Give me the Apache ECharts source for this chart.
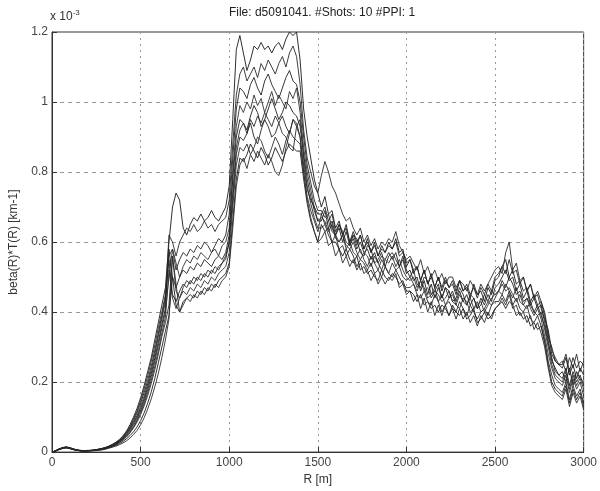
<!DOCTYPE html>
<html>
<head>
<meta charset="utf-8">
<script src="https://cdn.jsdelivr.net/npm/echarts@6/dist/echarts.min.js"></script>
<style>
  html, body { margin: 0; padding: 0; background: #fff; }
  #chart { width: 600px; height: 491px; }
</style>
</head>
<body>
<div id="chart"></div>
<script>
// range step of the lidar profile, metres
var rangeStep = 20;
var rangeCount = 151;
var xTicks = [0, 500, 1000, 1500, 2000, 2500, 3000];
var yTicks = [0, 0.2, 0.4, 0.6, 0.8, 1, 1.2];

// beta(R)*T(R), units of 1e-3 km-1, one array per shot
var shot1 = [0,.004,.009,.013,.015,.013,.009,.006,.004,.004,.004,.005,.006,.008,.010,.013,.017,.022,.028,
  .036,.046,.06,.078,.1,.125,.155,.19,.23,.27,.32,.37,.42,.47,
  .6,.7,.74,.72,.64,.62,.65,.67,.66,.68,.66,.67,.69,.67,.66,.68,.7,
  .76,.95,1.15,1.19,
  1.14,1.09,1.12,1.16,1.15,1.17,1.15,1.16,1.14,1.16,1.17,1.15,1.18,1.2,1.19,1.2,
  1.12,.98,.9,.84,.78,.74,
  .7,.73,.68,.69,.64,.66,.62,.65,.6,.63,.6,.62,.58,.61,.57,.6,.56,.59,.57,.6,.58,.61,.57,.58,.53,
  .55,.51,.53,.49,.52,.48,.5,.47,.5,.46,.49,.47,.48,.45,.49,.46,.47,.44,.48,.45,.46,.43,.47,.45,.49,
  .5,.53,.55,.5,.52,.48,.49,.46,.47,.43,.45,.42,.43,
  .39,.33,.3,.26,.25,
  .24,.27,.22,.25,.21,.24,.22];
var shot2 = [0,.003,.008,.012,.014,.012,.009,.006,.004,.003,.004,.004,.005,.007,.009,.012,.015,.02,.025,
  .032,.04,.052,.067,.085,.105,.13,.16,.195,.235,.28,.33,.38,.43,
  .62,.6,.56,.6,.62,.64,.63,.65,.63,.64,.66,.64,.65,.63,.65,.66,.67,
  .72,.88,1.02,1.08,
  1.1,1.06,1.08,1.1,1.07,1.11,1.09,1.12,1.1,1.08,1.11,1.13,1.1,1.14,1.16,1.13,
  1.05,.92,.84,.8,.76,.74,
  .79,.83,.8,.76,.74,.71,.68,.66,.67,.64,.62,.64,.6,.62,.59,.61,.58,.6,.59,.61,.6,.63,.59,.57,.55,
  .56,.54,.52,.55,.51,.53,.5,.52,.49,.51,.48,.5,.5,.47,.49,.48,.46,.49,.47,.45,.48,.46,.48,.5,.52,
  .53,.51,.57,.6,.52,.54,.49,.5,.46,.48,.44,.45,.41,
  .38,.35,.29,.27,.25,
  .26,.23,.27,.24,.28,.23,.26];
var shot3 = [0,.004,.009,.012,.014,.012,.009,.006,.005,.004,.004,.005,.006,.008,.01,.012,.016,.02,.026,
  .033,.042,.055,.07,.09,.112,.14,.17,.205,.245,.29,.34,.39,.44,
  .56,.58,.52,.55,.57,.56,.58,.57,.59,.58,.6,.59,.57,.59,.61,.6,.62,
  .68,.84,.98,1.04,
  1.03,1.01,1.05,1.07,1.04,1.02,1.06,1.08,1.05,1.03,1.01,1.04,1.07,1.09,1.06,1.05,
  1.0,.9,.82,.77,.72,.69,
  .69,.67,.68,.64,.62,.65,.63,.6,.59,.62,.61,.57,.56,.59,.58,.54,.55,.57,.53,.56,.57,.55,.53,.56,.52,
  .5,.52,.48,.47,.5,.49,.45,.46,.48,.44,.47,.46,.43,.44,.47,.45,.42,.45,.44,.41,.42,.45,.43,.46,.45,
  .46,.49,.47,.5,.48,.45,.46,.43,.44,.42,.4,.42,.39,
  .36,.31,.27,.23,.22,
  .21,.24,.19,.23,.2,.22,.19];
var shot4 = [0,.003,.008,.012,.013,.011,.008,.005,.004,.004,.004,.004,.005,.007,.009,.011,.014,.018,.023,
  .029,.037,.047,.06,.076,.095,.118,.145,.178,.215,.258,.305,.355,.4,
  .5,.58,.54,.5,.53,.55,.54,.56,.55,.57,.56,.55,.57,.58,.56,.59,.6,
  .64,.8,.93,.99,
  .97,1.0,.98,1.02,.99,1.01,.97,1.0,1.03,.99,1.02,1.0,.98,1.03,1.01,1.04,
  .97,.87,.8,.75,.7,.66,
  .67,.66,.63,.65,.61,.6,.62,.58,.6,.57,.56,.58,.55,.53,.56,.54,.52,.55,.53,.51,.54,.52,.53,.5,.49,
  .5,.48,.46,.49,.47,.44,.45,.47,.43,.45,.42,.44,.45,.42,.41,.44,.43,.4,.41,.43,.4,.41,.43,.42,.44,
  .46,.45,.48,.46,.44,.47,.43,.42,.44,.41,.39,.41,.38,
  .33,.28,.24,.21,.2,
  .19,.22,.17,.21,.18,.2,.16];
var shot5 = [0,.004,.009,.013,.014,.012,.008,.006,.004,.004,.004,.005,.006,.007,.009,.012,.015,.019,.024,
  .031,.039,.05,.064,.081,.1,.124,.152,.186,.224,.268,.315,.365,.41,
  .58,.5,.47,.5,.52,.51,.53,.52,.54,.53,.55,.54,.53,.55,.56,.55,.57,
  .62,.78,.9,.95,
  .94,.92,.96,.99,.97,.93,.95,.98,1.01,.98,.95,.97,1.0,.99,.97,.96,
  .93,.85,.78,.73,.69,.66,
  .66,.69,.64,.66,.62,.64,.6,.63,.59,.61,.58,.6,.57,.58,.55,.57,.54,.56,.55,.57,.55,.57,.53,.55,.51,
  .52,.49,.5,.46,.49,.45,.48,.44,.47,.44,.47,.44,.46,.43,.46,.43,.45,.42,.44,.41,.44,.42,.45,.43,.47,
  .48,.5,.52,.49,.5,.46,.48,.44,.46,.42,.44,.41,.42,
  .37,.32,.26,.24,.22,
  .23,.2,.24,.19,.23,.21,.2];
var shot6 = [0,.003,.008,.011,.013,.011,.008,.005,.004,.003,.004,.004,.005,.006,.008,.01,.013,.017,.021,
  .027,.034,.043,.055,.069,.086,.107,.132,.162,.196,.235,.28,.33,.37,
  .42,.56,.46,.44,.47,.49,.48,.5,.49,.51,.5,.52,.51,.53,.52,.54,.56,
  .6,.74,.87,.92,
  .94,.91,.95,.93,.96,.94,.97,.95,.93,.96,.94,.91,.9,.87,.86,.93,
  .95,.84,.76,.71,.67,.64,
  .64,.65,.62,.6,.62,.58,.59,.56,.58,.56,.53,.55,.54,.52,.54,.51,.52,.5,.53,.51,.5,.52,.5,.48,.47,
  .47,.48,.45,.44,.46,.43,.42,.45,.43,.4,.42,.43,.41,.4,.43,.41,.39,.42,.4,.38,.4,.41,.39,.42,.43,
  .43,.45,.43,.46,.42,.44,.41,.4,.42,.38,.37,.39,.36,
  .32,.26,.22,.19,.18,
  .17,.2,.15,.19,.16,.18,.14];
var shot7 = [0,.004,.009,.012,.014,.012,.009,.006,.005,.004,.005,.005,.006,.008,.01,.013,.016,.021,.027,
  .034,.044,.057,.074,.094,.118,.147,.18,.218,.26,.305,.355,.4,.45,
  .55,.45,.43,.46,.48,.47,.49,.48,.5,.49,.51,.5,.52,.51,.53,.54,.55,
  .6,.72,.85,.9,
  .89,.91,.94,.9,.88,.92,.95,.93,.9,.91,.94,.96,.93,.91,.95,.94,
  .9,.82,.75,.72,.7,.68,
  .68,.7,.66,.68,.63,.65,.62,.64,.6,.62,.59,.62,.58,.6,.57,.59,.56,.58,.57,.59,.58,.6,.56,.57,.54,
  .55,.52,.53,.49,.52,.48,.51,.47,.5,.47,.5,.47,.49,.46,.49,.46,.48,.45,.47,.44,.47,.45,.48,.46,.5,
  .51,.53,.51,.55,.51,.52,.48,.5,.46,.48,.44,.46,.43,
  .4,.34,.28,.26,.25,
  .25,.28,.23,.27,.24,.26,.25];
var shot8 = [0,.003,.008,.012,.013,.011,.008,.006,.004,.004,.004,.004,.005,.007,.009,.011,.014,.018,.022,
  .028,.035,.045,.057,.072,.09,.112,.138,.17,.205,.245,.29,.34,.385,
  .52,.44,.41,.44,.46,.45,.47,.46,.48,.47,.49,.48,.5,.49,.51,.52,.53,
  .57,.7,.82,.87,
  .86,.88,.85,.87,.9,.89,.86,.84,.87,.9,.88,.85,.89,.92,.9,.89,
  .88,.8,.73,.69,.66,.63,
  .68,.65,.66,.63,.62,.6,.62,.59,.58,.6,.57,.55,.57,.56,.53,.56,.54,.52,.55,.54,.56,.53,.55,.52,.5,
  .49,.5,.47,.49,.46,.47,.44,.46,.45,.43,.44,.46,.43,.42,.45,.43,.42,.44,.41,.42,.43,.4,.42,.44,.45,
  .46,.48,.46,.47,.45,.43,.45,.42,.41,.43,.4,.39,.4,
  .35,.3,.25,.22,.21,
  .2,.23,.18,.22,.19,.21,.18];
var shot9 = [0,.003,.007,.011,.012,.01,.007,.005,.004,.003,.003,.004,.005,.006,.007,.009,.012,.015,.019,
  .024,.03,.038,.047,.058,.072,.09,.112,.14,.172,.21,.255,.3,.345,
  .39,.5,.42,.4,.43,.44,.45,.44,.46,.45,.47,.46,.48,.47,.49,.5,.51,
  .54,.66,.78,.84,
  .83,.85,.88,.86,.84,.87,.85,.82,.84,.87,.85,.83,.86,.88,.87,.86,
  .86,.78,.71,.66,.63,.6,
  .65,.63,.64,.6,.6,.58,.56,.58,.55,.54,.56,.52,.53,.51,.52,.5,.49,.52,.5,.49,.51,.5,.48,.49,.46,
  .46,.45,.43,.45,.42,.43,.41,.42,.4,.42,.41,.39,.42,.4,.39,.41,.38,.39,.41,.37,.38,.4,.38,.39,.41,
  .42,.43,.41,.43,.42,.39,.4,.38,.39,.36,.37,.35,.36,
  .31,.25,.2,.18,.17,
  .16,.19,.14,.18,.15,.17,.13];
var shot10 = [0,.003,.007,.01,.012,.01,.007,.005,.003,.003,.003,.004,.004,.005,.006,.008,.011,.014,.017,
  .021,.026,.032,.04,.05,.062,.078,.098,.123,.152,.186,.225,.27,.32,
  .38,.56,.48,.4,.42,.44,.43,.45,.44,.46,.45,.47,.46,.48,.47,.49,.5,
  .53,.64,.76,.82,
  .84,.81,.85,.83,.86,.84,.82,.85,.83,.8,.79,.82,.87,.91,.95,.93,
  .9,.8,.72,.67,.63,.6,
  .61,.63,.59,.6,.56,.58,.54,.56,.53,.55,.52,.54,.51,.52,.49,.51,.48,.5,.48,.5,.49,.51,.47,.48,.45,
  .46,.43,.45,.41,.44,.4,.43,.39,.42,.39,.42,.39,.41,.38,.41,.38,.4,.37,.39,.36,.39,.37,.4,.38,.41,
  .42,.44,.42,.45,.41,.42,.39,.4,.37,.39,.35,.37,.34,
  .3,.24,.19,.17,.16,
  .15,.18,.13,.17,.14,.16,.12];

var shots = [shot1, shot2, shot3, shot4, shot5, shot6, shot7, shot8, shot9, shot10];
var lineColors = ['#1a1a1a', '#2b2b2b', '#222', '#333', '#1f1f1f', '#2a2a2a', '#262626', '#303030', '#1c1c1c', '#2e2e2e'];

var rangeM = [];
for (var k = 0; k < rangeCount; k++) rangeM.push(k * rangeStep);

var myChart = echarts.init(document.getElementById('chart'));

var series = shots.map(function (vals, i) {
  return {
    name: 'shot ' + (i + 1),
    type: 'line',
    showSymbol: false,
    symbol: 'none',
    silent: true,
    lineStyle: { width: 1, color: lineColors[i], opacity: 0.9 },
    data: rangeM.map(function (r, j) { return [r, vals[j]]; })
  };
});

var option = {
  animation: false,
  backgroundColor: '#fff',
  textStyle: { fontFamily: 'Liberation Sans, Arial, sans-serif' },
  title: {
    text: 'File: d5091041. #Shots: 10 #PPI: 1',
    left: 317,
    textAlign: 'center',
    top: 2,
    textStyle: { fontSize: 12, fontWeight: 'normal', color: '#222' }
  },
  grid: {
    left: 49,
    right: 14,
    top: 32,
    bottom: 35,
    show: true,
    borderColor: '#333',
    borderWidth: 1,
    backgroundColor: '#fff'
  },
  xAxis: {
    type: 'value',
    min: xTicks[0],
    max: xTicks[xTicks.length - 1],
    interval: 500,
    name: 'R [m]',
    nameLocation: 'middle',
    nameGap: 19,
    nameTextStyle: { fontSize: 12, color: '#333' },
    axisLine: { show: true, lineStyle: { color: '#333' } },
    axisTick: { inside: true, length: 5, lineStyle: { color: '#333' } },
    axisLabel: {
      fontSize: 12,
      color: '#444',
      margin: 5,
      formatter: function (v) { return String(v); }
    },
    splitLine: { show: true, lineStyle: { color: '#999', type: [2, 4] } }
  },
  yAxis: {
    type: 'value',
    min: yTicks[0],
    max: yTicks[yTicks.length - 1],
    interval: 0.2,
    name: 'beta(R)*T(R) [km-1]',
    nameLocation: 'middle',
    nameGap: 32,
    nameTextStyle: { fontSize: 12, color: '#333' },
    axisLine: { show: true, lineStyle: { color: '#333' } },
    axisTick: { inside: true, length: 5, lineStyle: { color: '#333' } },
    axisLabel: {
      fontSize: 12,
      color: '#444',
      margin: 4,
      formatter: function (v) { return String(Math.round(v * 10) / 10); }
    },
    splitLine: { show: true, lineStyle: { color: '#999', type: [4, 4] } }
  },
  graphic: [{
    type: 'text',
    left: 50,
    top: 9,
    style: {
      text: '{a|x 10}{b|-3}',
      rich: {
        a: { fontSize: 12, fill: '#333', fontFamily: 'Liberation Sans, Arial, sans-serif' },
        b: { fontSize: 8, fill: '#333', verticalAlign: 'top', padding: [0, 0, 8, 0], fontFamily: 'Liberation Sans, Arial, sans-serif' }
      }
    }
  }],
  series: series
};

option && myChart.setOption(option);
window.addEventListener('resize', function () {
  myChart.resize();
});
</script>
</body>
</html>
